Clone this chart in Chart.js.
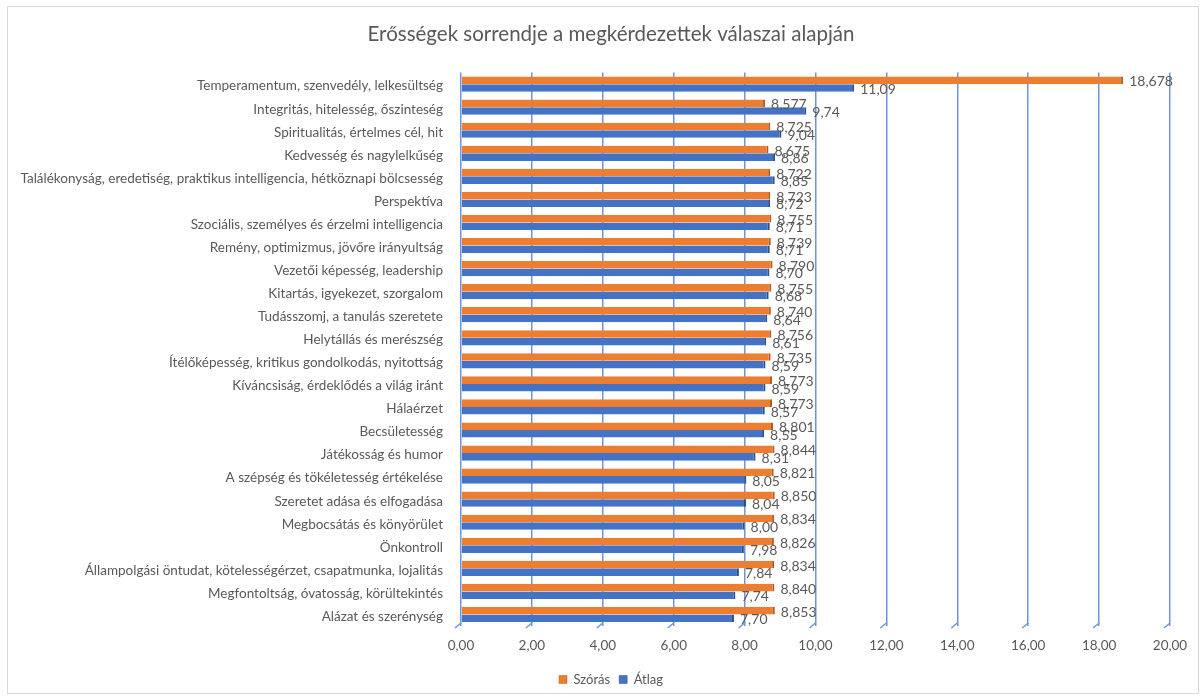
<!DOCTYPE html>
<html lang="hu">
<head>
<meta charset="utf-8">
<title>Erősségek sorrendje</title>
<script src="https://cdn.jsdelivr.net/npm/chart.js@4/dist/chart.umd.min.js"></script>
<style>
    html, body { margin: 0; padding: 0; background: #fff; }
    #wrap { position: relative; width: 1204px; height: 697px; }
    #frame {
        position: absolute; left: 7px; top: 6px; width: 1190px; height: 686px;
        border: 1px solid #d9d9d9; pointer-events: none;
    }
</style>
</head>
<body>
<div id="wrap">
    <canvas id="chart" width="1204" height="697"></canvas>
    <div id="frame"></div>
</div>
<script>
    // kategóriák (felülről lefelé)
    const categories = [
        'Temperamentum, szenvedély, lelkesültség',
        'Integritás, hitelesség, őszinteség',
        'Spiritualitás, értelmes cél, hit',
        'Kedvesség és nagylelkűség',
        'Találékonyság, eredetiség, praktikus intelligencia, hétköznapi bölcsesség',
        'Perspektíva',
        'Szociális, személyes és érzelmi intelligencia',
        'Remény, optimizmus, jövőre irányultság',
        'Vezetői képesség, leadership',
        'Kitartás, igyekezet, szorgalom',
        'Tudásszomj, a tanulás szeretete',
        'Helytállás és merészség',
        'Ítélőképesség, kritikus gondolkodás, nyitottság',
        'Kíváncsiság, érdeklődés a világ iránt',
        'Hálaérzet',
        'Becsületesség',
        'Játékosság és humor',
        'A szépség és tökéletesség értékelése',
        'Szeretet adása és elfogadása',
        'Megbocsátás és könyörület',
        'Önkontroll',
        'Állampolgási öntudat, kötelességérzet, csapatmunka, lojalitás',
        'Megfontoltság, óvatosság, körültekintés',
        'Alázat és szerénység'
    ];

    const szorasValues = [
        18.678, 8.577, 8.725, 8.675, 8.722, 8.723, 8.755, 8.739, 8.790, 8.755, 8.740, 8.756,
        8.735, 8.773, 8.773, 8.801, 8.844, 8.821, 8.850, 8.834, 8.826, 8.834, 8.840, 8.853
    ];

    const atlagValues = [
        11.09, 9.74, 9.04, 8.86, 8.85, 8.72, 8.71, 8.71, 8.70, 8.68, 8.64, 8.61,
        8.59, 8.59, 8.57, 8.55, 8.31, 8.05, 8.04, 8.00, 7.98, 7.84, 7.74, 7.70
    ];

    const xTicks = [0, 2, 4, 6, 8, 10, 12, 14, 16, 18, 20];

    const FONT = 'Lato, "Open Sans", sans-serif';
    const GREY = '#595959';
    const GRID = '#6f94da';

    function huNum(v, dec) {
        return v.toFixed(dec).replace('.', ',');
    }

    // adatcímkék a sávok végén
    const valueLabels = {
        id: 'valueLabels',
        afterDatasetsDraw(chart) {
            const ctx = chart.ctx;
            ctx.save();
            ctx.font = '14px ' + FONT;
            ctx.fillStyle = GREY;
            ctx.textAlign = 'left';
            ctx.textBaseline = 'middle';
            chart.data.datasets.forEach((ds, i) => {
                const meta = chart.getDatasetMeta(i);
                meta.data.forEach((el, j) => {
                    ctx.fillText(huNum(ds.data[j], ds.decimals), el.x + 6, el.y + 1.5);
                });
            });
            ctx.restore();
        }
    };

    // kis ferde "lábak" a rácsvonalak alján (3D fal imitáció)
    const gridFeet = {
        id: 'gridFeet',
        afterDraw(chart) {
            const ctx = chart.ctx;
            const xs = chart.scales.x;
            const bottom = chart.chartArea.bottom;
            ctx.save();
            ctx.strokeStyle = GRID;
            ctx.lineWidth = 1.5;
            xTicks.forEach(t => {
                const px = xs.getPixelForValue(t);
                ctx.beginPath();
                ctx.moveTo(px, bottom - 3);
                ctx.lineTo(px - 6, bottom + 2);
                ctx.stroke();
            });
            ctx.restore();
        }
    };

    const ctx = document.getElementById('chart').getContext('2d');
    new Chart(ctx, {
        type: 'bar',
        data: {
            labels: categories,
            datasets: [
                {
                    label: 'Szórás',
                    data: szorasValues,
                    decimals: 3,
                    backgroundColor: '#ed7d31',
                    borderColor: '#b85a1c',
                    borderWidth: { right: 2, top: 0, bottom: 0, left: 0 },
                    borderSkipped: 'start'
                },
                {
                    label: 'Átlag',
                    data: atlagValues,
                    decimals: 2,
                    backgroundColor: '#4472c4',
                    borderColor: '#2c4f8c',
                    borderWidth: { right: 2, top: 0, bottom: 0, left: 0 },
                    borderSkipped: 'start'
                }
            ]
        },
        options: {
            indexAxis: 'y',
            responsive: false,
            animation: false,
            categoryPercentage: 0.66,
            barPercentage: 1.0,
            layout: { padding: { left: 18, right: 0, top: 0, bottom: 1 } },
            plugins: {
                title: {
                    display: true,
                    text: 'Erősségek sorrendje a megkérdezettek válaszai alapján',
                    color: GREY,
                    font: { family: FONT, size: 20.5, weight: 'normal' },
                    padding: { top: 22, bottom: 26 }
                },
                legend: {
                    position: 'bottom',
                    labels: {
                        color: GREY,
                        font: { family: FONT, size: 13 },
                        boxWidth: 8,
                        boxHeight: 8,
                        padding: 9
                    }
                },
                tooltip: { enabled: false }
            },
            scales: {
                x: {
                    min: 0,
                    max: 20,
                    afterBuildTicks(scale) {
                        scale.ticks = xTicks.map(v => ({ value: v }));
                    },
                    afterFit(scale) { scale.height = 38; },
                    ticks: {
                        color: GREY,
                        font: { family: FONT, size: 13.5 },
                        padding: 12,
                        maxRotation: 0,
                        callback: v => huNum(v, 2)
                    },
                    grid: { color: GRID, lineWidth: 1.5, drawTicks: false },
                    border: { display: false }
                },
                y: {
                    afterFit(scale) { scale.width = 443; },
                    ticks: {
                        color: GREY,
                        font: { family: FONT, size: 13.5 },
                        padding: 18,
                        labelOffset: 2,
                        autoSkip: false
                    },
                    grid: { display: false, drawTicks: false },
                    border: { display: false }
                },
                // üres jobb oldali sáv, hogy a cím a teljes szélességen legyen középen
                yRight: {
                    type: 'category',
                    position: 'right',
                    afterFit(scale) { scale.width = 34; },
                    ticks: { display: false },
                    grid: { display: false, drawTicks: false },
                    border: { display: false }
                }
            }
        },
        plugins: [valueLabels, gridFeet]
    });
</script>
</body>
</html>
